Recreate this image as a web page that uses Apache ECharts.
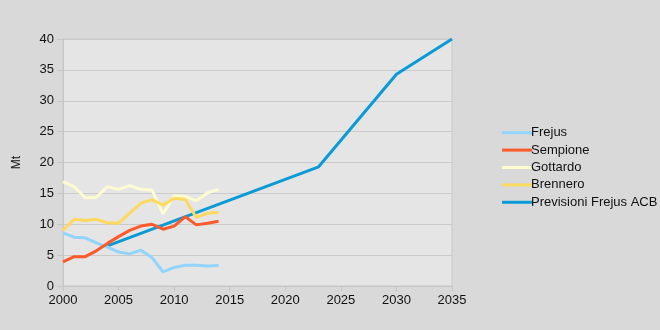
<!DOCTYPE html>
<html>
<head>
<meta charset="utf-8">
<script src="https://cdn.jsdelivr.net/npm/echarts@6/dist/echarts.min.js"></script>
<style>
  html, body { margin: 0; padding: 0; background: #d9d9d9; }
  #chart { width: 660px; height: 330px; }
</style>
</head>
<body>
<div id="chart"></div>
<script>
// Freight traffic through Alpine crossings (million tonnes)
const years = [2000, 2001, 2002, 2003, 2004, 2005, 2006, 2007, 2008, 2009, 2010, 2011, 2012, 2013, 2014];
const frejus    = [8.6, 7.9, 7.8, 7.0, 6.3, 5.5, 5.2, 5.8, 4.6, 2.3, 3.0, 3.35, 3.35, 3.25, 3.3];
const sempione  = [3.9, 4.75, 4.75, 5.7, 6.9, 8.0, 9.0, 9.7, 10.0, 9.2, 9.7, 11.2, 9.9, 10.15, 10.5];
const gottardo  = [16.9, 16.1, 14.3, 14.35, 16.1, 15.65, 16.25, 15.65, 15.55, 11.7, 14.6, 14.5, 13.8, 15.1, 15.65];
const brennero  = [9.0, 10.8, 10.6, 10.8, 10.25, 10.15, 11.8, 13.4, 14.0, 13.1, 14.2, 14.0, 11.1, 11.8, 11.9];
// Forecast for the Frejus base tunnel
const forecastYears  = [2004, 2023, 2030, 2035];
const forecastValues = [6.5, 19.3, 34.3, 40];

const seriesNames = ['Frejus', 'Sempione', 'Gottardo', 'Brennero', 'Previsioni Frejus ACB'];
const seriesColors = ['#92d4fb', '#fb5a2a', '#fdfbd0', '#fdd95e', '#0a9bd6'];

const pairs = (xs, ys) => xs.map((x, i) => [x, ys[i]]);
const seriesData = [
  pairs(years, frejus),
  pairs(years, sempione),
  pairs(years, gottardo),
  pairs(years, brennero),
  pairs(forecastYears, forecastValues)
];

const font = '"Liberation Sans", Arial, Helvetica, sans-serif';
const chart = echarts.init(document.getElementById('chart'));
chart.setOption({
  backgroundColor: '#d9d9d9',
  animation: false,
  textStyle: { fontFamily: font },
  grid: {
    left: 63, right: 208, top: 39, bottom: 44,
    show: true, backgroundColor: '#e5e5e5', borderColor: '#c9c9c9', borderWidth: 1
  },
  legend: {
    orient: 'vertical',
    left: 497, top: 121,
    itemWidth: 30, itemHeight: 3, itemGap: 4,
    icon: 'rect',
    data: seriesNames,
    textStyle: { fontFamily: font, fontSize: 13, color: '#111', lineHeight: 13.4, padding: [0, 0, 0, -6] }
  },
  xAxis: {
    type: 'value',
    min: 2000, max: 2035, interval: 5,
    axisLine: { show: true, lineStyle: { color: '#c6c6c6', width: 1 } },
    axisTick: { show: true, length: 5, lineStyle: { color: '#c6c6c6' } },
    splitLine: { show: false },
    axisLabel: { color: '#111', fontSize: 13, fontFamily: font, margin: 8, formatter: v => String(v) }
  },
  yAxis: {
    type: 'value',
    min: 0, max: 40, interval: 5,
    name: 'Mt', nameLocation: 'middle', nameGap: 40, nameRotate: 90,
    nameTextStyle: { color: '#111', fontSize: 12, fontFamily: font },
    axisLine: { show: true, lineStyle: { color: '#c6c6c6', width: 1 } },
    axisTick: { show: true, length: 6, lineStyle: { color: '#c6c6c6' } },
    splitLine: { show: true, lineStyle: { color: '#cacaca', width: 1 } },
    axisLabel: { color: '#111', fontSize: 13, fontFamily: font, margin: 9 }
  },
  series: seriesNames.map((name, i) => ({
    name,
    type: 'line',
    data: seriesData[i],
    showSymbol: false,
    symbol: 'none',
    color: seriesColors[i],
    lineStyle: { width: 3, color: seriesColors[i] },
    z: i === 4 ? 1 : 2 + i
  }))
});
</script>
</body>
</html>
